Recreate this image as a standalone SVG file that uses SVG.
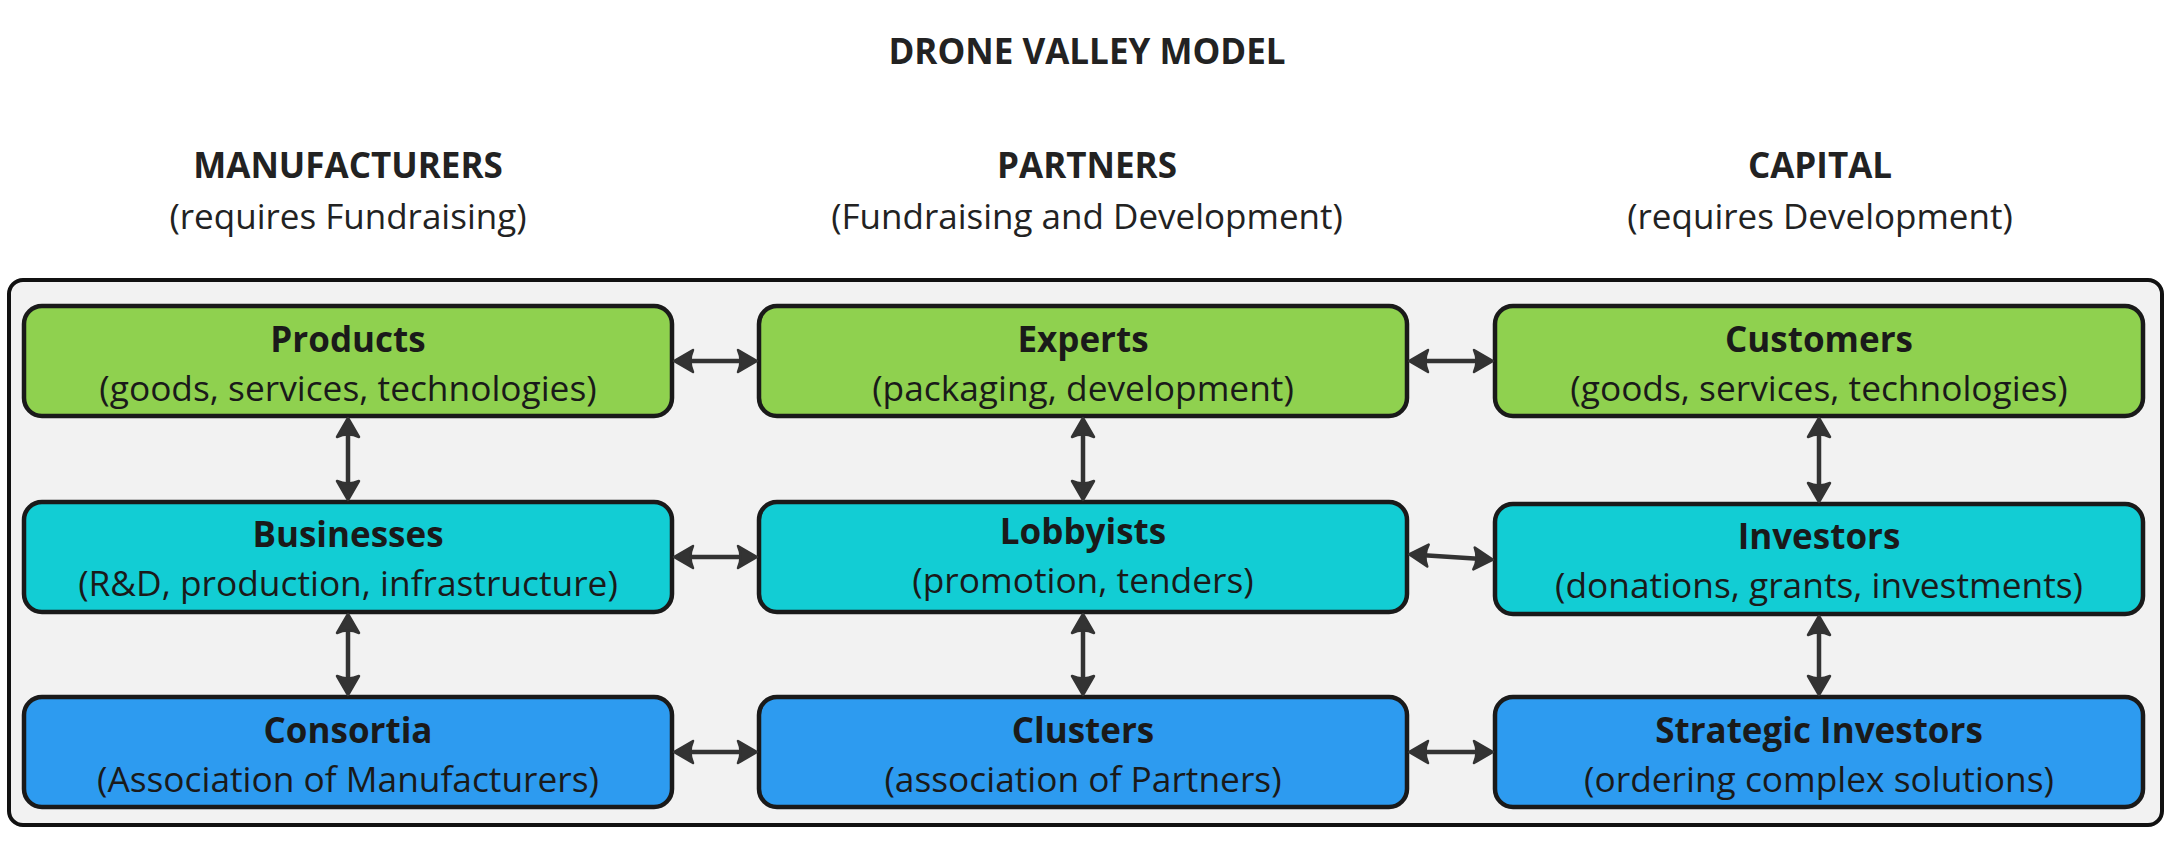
<svg xmlns="http://www.w3.org/2000/svg" width="2174" height="866" viewBox="0 0 2174 866">
<style>
  .hdr { font-family: "Open Sans", "Liberation Sans", sans-serif; font-size: 35px; font-weight: 700; fill: #222; text-anchor: middle; }
  .hsub { font-family: "Open Sans", "Liberation Sans", sans-serif; font-size: 35px; font-weight: 400; fill: #222; text-anchor: middle; }
  .box { stroke: #1a1a1a; stroke-width: 4.5; }
  .green { fill: #8fd14f; }
  .cyan { fill: #12cdd4; }
  .blue { fill: #2d9bf0; }
  .t { font-family: "Open Sans", "Liberation Sans", sans-serif; font-size: 35px; font-weight: 700; fill: #1a1a1a; text-anchor: middle; }
  .s { font-family: "Open Sans", "Liberation Sans", sans-serif; font-size: 35.3px; font-weight: 400; fill: #1a1a1a; text-anchor: middle; }
  .conn { stroke: #333; stroke-width: 4.5; fill: none; marker-start: url(#ah); marker-end: url(#ah); }
</style>
<defs>
  <marker id="ah" markerUnits="userSpaceOnUse" orient="auto-start-reverse" refX="0" refY="0" markerWidth="40" markerHeight="40" viewBox="-20 -20 40 40" overflow="visible">
    <path d="M11,0 L-8,-11 Q-3,0 -8,11 Z" fill="#333" stroke="#333" stroke-width="2.5" stroke-linejoin="round"/>
  </marker>
</defs>
<rect width="2174" height="866" fill="#ffffff"/>

<g id="title">
  <text class="hdr" x="1087" y="64">DRONE VALLEY MODEL</text>
</g>
<g id="header-manufacturers">
  <text class="hdr" x="348" y="178">MANUFACTURERS</text>
  <text class="hsub" x="348" y="229">(requires Fundraising)</text>
</g>
<g id="header-partners">
  <text class="hdr" x="1087" y="178">PARTNERS</text>
  <text class="hsub" x="1087" y="229">(Fundraising and Development)</text>
</g>
<g id="header-capital">
  <text class="hdr" x="1820" y="178">CAPITAL</text>
  <text class="hsub" x="1820" y="229">(requires Development)</text>
</g>

<g id="container">
  <rect x="9" y="280" width="2153" height="545" rx="14" ry="14" fill="#f2f2f2" stroke="#111" stroke-width="4"/>
</g>

<g id="products">
  <rect class="box green" x="24" y="306" width="648" height="110" rx="18"/>
  <text class="t" x="348" y="352">Products</text>
  <text class="s" x="348" y="401">(goods, services, technologies)</text>
</g>
<g id="experts">
  <rect class="box green" x="759" y="306" width="648" height="110" rx="18"/>
  <text class="t" x="1083" y="352">Experts</text>
  <text class="s" x="1083" y="401">(packaging, development)</text>
</g>
<g id="customers">
  <rect class="box green" x="1495" y="306" width="648" height="110" rx="18"/>
  <text class="t" x="1819" y="352">Customers</text>
  <text class="s" x="1819" y="401">(goods, services, technologies)</text>
</g>

<g id="businesses">
  <rect class="box cyan" x="24" y="502" width="648" height="110" rx="18"/>
  <text class="t" x="348" y="547">Businesses</text>
  <text class="s" x="348" y="596">(R&amp;D, production, infrastructure)</text>
</g>
<g id="lobbyists">
  <rect class="box cyan" x="759" y="502" width="648" height="110" rx="18"/>
  <text class="t" x="1083" y="544">Lobbyists</text>
  <text class="s" x="1083" y="593">(promotion, tenders)</text>
</g>
<g id="investors">
  <rect class="box cyan" x="1495" y="504" width="648" height="110" rx="18"/>
  <text class="t" x="1819" y="549">Investors</text>
  <text class="s" x="1819" y="598">(donations, grants, investments)</text>
</g>

<g id="consortia">
  <rect class="box blue" x="24" y="697" width="648" height="110" rx="18"/>
  <text class="t" x="348" y="743">Consortia</text>
  <text class="s" x="348" y="792">(Association of Manufacturers)</text>
</g>
<g id="clusters">
  <rect class="box blue" x="759" y="697" width="648" height="110" rx="18"/>
  <text class="t" x="1083" y="743">Clusters</text>
  <text class="s" x="1083" y="792">(association of Partners)</text>
</g>
<g id="strategic-investors">
  <rect class="box blue" x="1495" y="697" width="648" height="110" rx="18"/>
  <text class="t" x="1819" y="743">Strategic Investors</text>
  <text class="s" x="1819" y="792">(ordering complex solutions)</text>
</g>

<g id="connectors">
  <line class="conn" x1="685" y1="361" x2="746" y2="361"/>
  <line class="conn" x1="1420" y1="361" x2="1482" y2="361"/>
  <line class="conn" x1="685" y1="557" x2="746" y2="557"/>
  <line class="conn" x1="1420" y1="555" x2="1482" y2="559"/>
  <line class="conn" x1="685" y1="752" x2="746" y2="752"/>
  <line class="conn" x1="1420" y1="752" x2="1482" y2="752"/>
  <line class="conn" x1="348" y1="429" x2="348" y2="489"/>
  <line class="conn" x1="1083" y1="429" x2="1083" y2="489"/>
  <line class="conn" x1="1819" y1="429" x2="1819" y2="491"/>
  <line class="conn" x1="348" y1="625" x2="348" y2="684"/>
  <line class="conn" x1="1083" y1="625" x2="1083" y2="684"/>
  <line class="conn" x1="1819" y1="627" x2="1819" y2="684"/>
</g>
</svg>
